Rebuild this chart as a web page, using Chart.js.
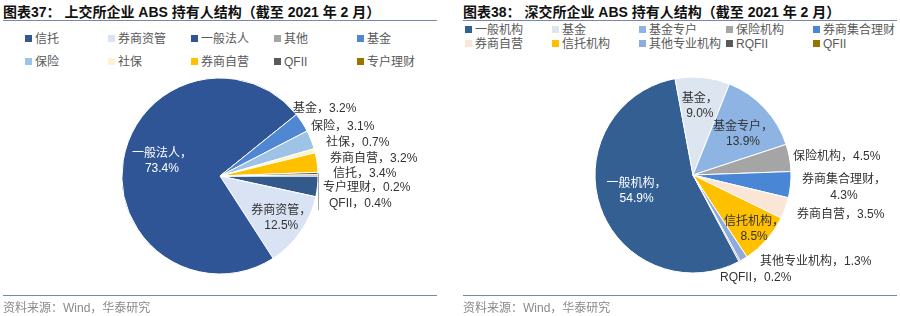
<!DOCTYPE html>
<html>
<head>
<meta charset="utf-8">
<script src="https://cdn.jsdelivr.net/npm/chart.js@4/dist/chart.umd.min.js"></script>
<style>
  body { margin: 0; background: #fff; width: 900px; height: 316px; overflow: hidden; position: relative;
         font-family: "Liberation Sans", "Noto Sans CJK SC", sans-serif; }
  .title { position: absolute; top: 1px; font-size: 14px; font-weight: bold; color: #111; white-space: nowrap; }
  .rule { position: absolute; height: 1px; background: #7489ab; }
  .item { position: absolute; white-space: nowrap; font-size: 12px; line-height: 14px; color: #595959; }
  .item i { display: inline-block; width: 7px; height: 7px; margin-right: 3px; vertical-align: 1px; }
  .source { position: absolute; top: 298px; font-size: 12px; color: #8a8a8a; white-space: nowrap; }
  canvas { position: absolute; top: 0; }
</style>
</head>
<body>
<div class="title" style="left:3px">图表37：&nbsp;上交所企业 ABS 持有人结构（截至 2021 年 2 月）</div>
<div class="title" style="left:463px">图表38：&nbsp;深交所企业 ABS 持有人结构（截至 2021 年 2 月）</div>
<div class="rule" style="left:3px;width:434px;top:20px"></div>
<div class="rule" style="left:463px;width:434px;top:20px"></div>
<div id="legendSh"></div>
<div id="legendSz"></div>
<canvas id="chartSh" width="450" height="316" style="left:0"></canvas>
<canvas id="chartSz" width="450" height="316" style="left:450px"></canvas>
<div class="rule" style="left:3px;width:434px;top:295px"></div>
<div class="rule" style="left:463px;width:434px;top:295px"></div>
<div class="source" style="left:3px">资料来源：Wind，华泰研究</div>
<div class="source" style="left:463px">资料来源：Wind，华泰研究</div>

<script>
// 上交所
const shLabels = ['信托', '券商资管', '一般法人', '其他', '基金', '保险', '社保', '券商自营', 'QFII', '专户理财'];
const shValues = [3.4, 12.5, 73.4, 0, 3.2, 3.1, 0.7, 3.2, 0.4, 0.2];
const shColors = ['#345a8c', '#dae3f3', '#2f5597', '#a5a5a5', '#4f87d2', '#9dc3e6', '#fff2cc', '#ffc000', '#595959', '#997300'];

// 深交所
const szLabels = ['一般机构', '基金', '基金专户', '保险机构', '券商集合理财', '券商自营', '信托机构', '其他专业机构', 'RQFII', 'QFII'];
const szValues = [54.9, 9.0, 13.9, 4.5, 4.3, 3.5, 8.5, 1.3, 0.2, 0];
const szColors = ['#335f93', '#dde5f0', '#8eb4e3', '#a5a5a5', '#4a86d6', '#fbe5d6', '#ffc000', '#8faadc', '#595959', '#997300'];

// размещение подписей (смещения от центра круга)
const shLayout = {
  2: { inside: true, f: 0.6, oy: -5, color: '#fff' },
  1: { inside: true, f: 0.76 },
  4: { dx: 73, dy: -67 },
  5: { dx: 91, dy: -49 },
  6: { dx: 106, dy: -33 },
  7: { dx: 110, dy: -17 },
  0: { dx: 113, dy: -2 },
  9: { dx: 103, dy: 12 },
  8: { dx: 109, dy: 28, leader: true },
};
const szLayout = {
  0: { inside: true, f: 0.61, oy: -4, color: '#fff' },
  1: { inside: true, f: 0.71 },
  2: { inside: true, f: 0.7, oy: 6 },
  6: { inside: true, f: 0.83 },
  3: { dx: 100, dy: -18 },
  4: { dx: 151, dy: 13, split: true },
  5: { dx: 104, dy: 40 },
  7: { dx: 67, dy: 87 },
  8: { dx: 27, dy: 103 },
};

function buildLegend(el, labels, colors, x0, colW, rows) {
  labels.forEach((name, i) => {
    const d = document.createElement('div');
    d.className = 'item';
    d.style.left = (x0 + (i % 5) * colW) + 'px';
    d.style.top = (rows[Math.floor(i / 5)] - 7) + 'px';
    d.innerHTML = '<i style="background:' + colors[i] + '"></i>' + name;
    el.appendChild(d);
  });
}
buildLegend(document.getElementById('legendSh'), shLabels, shColors, 25, 83, [39, 62]);
buildLegend(document.getElementById('legendSz'), szLabels, szColors, 465, 87, [30, 44]);

const pieLabels = {
  id: 'pieLabels',
  afterDatasetsDraw(chart, args, opts) {
    const ctx = chart.ctx;
    const meta = chart.getDatasetMeta(0);
    const values = chart.data.datasets[0].data;
    ctx.save();
    ctx.font = '12px "Liberation Sans", "Noto Sans CJK SC", sans-serif';
    ctx.textBaseline = 'middle';
    meta.data.forEach((arc, i) => {
      const lay = opts.layout[i];
      if (!lay) return;
      const name = chart.data.labels[i];
      const pct = values[i].toFixed(1) + '%';
      ctx.fillStyle = lay.color || '#333';
      if (lay.inside) {
        const mid = (arc.startAngle + arc.endAngle) / 2;
        const x = arc.x + Math.cos(mid) * arc.outerRadius * lay.f;
        const y = arc.y + Math.sin(mid) * arc.outerRadius * lay.f + (lay.oy || 0);
        ctx.textAlign = 'center';
        ctx.fillText(name + '，', x, y - 7.5);
        ctx.fillText(pct, x, y + 7.5);
      } else if (lay.split) {
        ctx.textAlign = 'center';
        ctx.fillText(name + '，', arc.x + lay.dx, arc.y + lay.dy - 8);
        ctx.fillText(pct, arc.x + lay.dx, arc.y + lay.dy + 8);
      } else {
        ctx.textAlign = 'left';
        ctx.fillText(name + '，' + pct, arc.x + lay.dx, arc.y + lay.dy);
        if (lay.leader) {
          const mid = (arc.startAngle + arc.endAngle) / 2;
          const lx = arc.x + Math.cos(mid) * arc.outerRadius;
          const ly = arc.y + Math.sin(mid) * arc.outerRadius;
          ctx.strokeStyle = '#a6a6a6';
          ctx.lineWidth = 1;
          ctx.beginPath();
          ctx.moveTo(Math.round(lx) + 0.5, ly);
          ctx.lineTo(Math.round(lx) + 0.5, arc.y + lay.dy + 6);
          ctx.stroke();
        }
      }
    });
    ctx.restore();
  },
};

function createPie(canvas, labels, values, colors, rotation, padding, layout) {
  return new Chart(canvas, {
    type: 'pie',
    data: {
      labels: labels,
      datasets: [{
        data: values,
        backgroundColor: colors,
        borderColor: '#ffffff',
        borderWidth: 1,
        hoverOffset: 0,
        radius: 98,
      }],
    },
    options: {
      responsive: false,
      animation: false,
      rotation: rotation,
      layout: { padding: padding },
      plugins: {
        legend: { display: false },
        tooltip: { enabled: false },
        pieLabels: { layout: layout },
      },
    },
    plugins: [pieLabels],
  });
}

createPie(document.getElementById('chartSh'), shLabels, shValues, shColors, 90,
  { left: 122, right: 132, top: 78, bottom: 42 }, shLayout);
createPie(document.getElementById('chartSz'), szLabels, szValues, szColors, 152,
  { left: 145, right: 109, top: 77, bottom: 43 }, szLayout);
</script>
</body>
</html>
